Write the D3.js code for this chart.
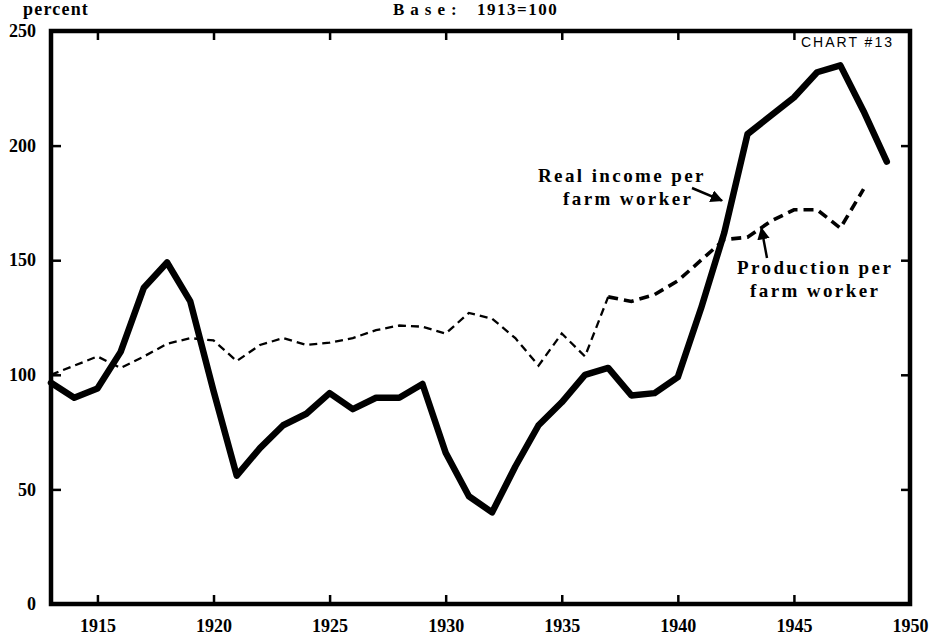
<!DOCTYPE html>
<html>
<head>
<meta charset="utf-8">
<script src="https://cdn.jsdelivr.net/npm/d3@7"></script>
<style>
  body { margin: 0; background: #fff; }
  svg { display: block; }
</style>
</head>
<body>
<div id="chart-area"></div>
<script>
// values (1913 = 100)
const years = [1913, 1914, 1915, 1916, 1917, 1918, 1919, 1920, 1921, 1922,
  1923, 1924, 1925, 1926, 1927, 1928, 1929, 1930, 1931, 1932,
  1933, 1934, 1935, 1936, 1937, 1938, 1939, 1940, 1941, 1942,
  1943, 1944, 1945, 1946, 1947, 1948, 1949];

const realIncome = [96.5, 90, 94, 110, 138, 149, 132, 93, 56, 68,
  78, 83, 92, 85, 90, 90, 96, 66, 47, 40,
  60, 78, 88, 100, 103, 91, 92, 99, 129, 162,
  205, 213, 221, 232, 235, 215, 193];

// production series stops at 1948
const production = [100, 104, 108, 103, 108, 113.5, 116, 115, 106, 113,
  116, 113, 114, 116, 119.5, 121.5, 121, 118, 127, 124.5,
  116, 104, 118, 108, 134, 132, 135, 141, 150, 159,
  160, 167, 172, 172, 164, 181];

const xTicks = [1915, 1920, 1925, 1930, 1935, 1940, 1945, 1950];
const yTicks = [0, 50, 100, 150, 200, 250];

const width = 932;
const height = 639;
const serif = "'Liberation Serif', 'DejaVu Serif', serif";

const svg = d3.select("#chart-area")
  .append("svg")
  .attr("width", width)
  .attr("height", height);

const x = d3.scaleLinear()
  .domain([1913, 1950])
  .range([51, 910]);

const y = d3.scaleLinear()
  .domain([0, 250])
  .range([604, 31]);

// axes: ticks point inward, labels outside
const xAxis = d3.axisBottom(x)
  .tickValues(xTicks)
  .tickSizeInner(-9)
  .tickSizeOuter(0)
  .tickPadding(15)
  .tickFormat(d3.format("d"));

const xAxisTop = d3.axisTop(x)
  .tickValues(xTicks.slice(0, -1))
  .tickSizeInner(-9)
  .tickSizeOuter(0)
  .tickFormat("");

const yAxis = d3.axisLeft(y)
  .tickValues(yTicks)
  .tickSizeInner(-10)
  .tickSizeOuter(0)
  .tickPadding(15);

const yAxisRight = d3.axisRight(y)
  .tickValues(yTicks.slice(1, -1))
  .tickSizeInner(-9)
  .tickSizeOuter(0)
  .tickFormat("");

const axisGroups = [
  svg.append("g").attr("transform", `translate(0, ${y(0)})`).call(xAxis),
  svg.append("g").attr("transform", `translate(0, ${y(250)})`).call(xAxisTop),
  svg.append("g").attr("transform", `translate(${x(1913)}, 0)`).call(yAxis),
  svg.append("g").attr("transform", `translate(${x(1950)}, 0)`).call(yAxisRight)
];

axisGroups.forEach(ag => {
  ag.select(".domain").remove();
  ag.selectAll("line").attr("stroke", "#000").attr("stroke-width", 2.5);
  ag.selectAll("text")
    .attr("fill", "#000")
    .attr("font-family", serif)
    .attr("font-weight", "bold")
    .attr("font-size", "18px");
});

// frame
svg.append("rect")
  .attr("x", x(1913))
  .attr("y", y(250))
  .attr("width", x(1950) - x(1913))
  .attr("height", y(0) - y(250))
  .attr("fill", "none")
  .attr("stroke", "#000")
  .attr("stroke-width", 4.5);

// lines
const incomeData = years.map((yr, i) => ({ year: yr, value: realIncome[i] }));
const prodData = production.map((v, i) => ({ year: years[i], value: v }));

const line = d3.line()
  .x(d => x(d.year))
  .y(d => y(d.value));

svg.append("path")
  .datum(incomeData)
  .attr("d", line)
  .attr("fill", "none")
  .attr("stroke", "#000")
  .attr("stroke-width", 6.5)
  .attr("stroke-linejoin", "round")
  .attr("stroke-linecap", "round");

// dashed line gets heavier from 1937 on
const split = years.indexOf(1937);

svg.append("path")
  .datum(prodData.slice(0, split + 1))
  .attr("d", line)
  .attr("fill", "none")
  .attr("stroke", "#000")
  .attr("stroke-width", 2.3)
  .attr("stroke-dasharray", "8,5");

svg.append("path")
  .datum(prodData.slice(split))
  .attr("d", line)
  .attr("fill", "none")
  .attr("stroke", "#000")
  .attr("stroke-width", 3.6)
  .attr("stroke-dasharray", "10,6");

// titles
svg.append("text")
  .attr("x", 23)
  .attr("y", 15)
  .attr("font-family", serif)
  .attr("font-weight", "bold")
  .attr("font-size", "18px")
  .attr("letter-spacing", "1.2px")
  .text("percent");

svg.append("text")
  .attr("x", 393)
  .attr("y", 15)
  .attr("font-family", serif)
  .attr("font-weight", "bold")
  .attr("font-size", "17px")
  .attr("letter-spacing", "6px")
  .text("Base:");

svg.append("text")
  .attr("x", 477)
  .attr("y", 15)
  .attr("font-family", serif)
  .attr("font-weight", "bold")
  .attr("font-size", "17px")
  .attr("letter-spacing", "1.5px")
  .text("1913=100");

svg.append("text")
  .attr("x", 801)
  .attr("y", 47)
  .attr("font-family", "'Liberation Sans', 'DejaVu Sans', sans-serif")
  .attr("font-size", "14px")
  .attr("letter-spacing", "2px")
  .text("CHART #13");

// annotations
svg.append("defs").append("marker")
  .attr("id", "arrow")
  .attr("viewBox", "0 0 10 10")
  .attr("refX", 9)
  .attr("refY", 5)
  .attr("markerWidth", 5)
  .attr("markerHeight", 5)
  .attr("orient", "auto")
  .append("path")
  .attr("d", "M0,0 L10,5 L0,10 Z")
  .attr("fill", "#000");

const labels = [
  { text: "Real income per", x: 538, y: 182 },
  { text: "farm worker", x: 563, y: 205 },
  { text: "Production per", x: 737, y: 274 },
  { text: "farm worker", x: 750, y: 297 }
];

labels.forEach(l => {
  svg.append("text")
    .attr("x", l.x)
    .attr("y", l.y)
    .attr("font-family", serif)
    .attr("font-weight", "bold")
    .attr("font-size", "19px")
    .attr("letter-spacing", "2.4px")
    .text(l.text);
});

svg.append("line")
  .attr("x1", 692).attr("y1", 188)
  .attr("x2", x(1941.9)).attr("y2", y(176))
  .attr("stroke", "#000")
  .attr("stroke-width", 2.5)
  .attr("marker-end", "url(#arrow)");

svg.append("line")
  .attr("x1", 767).attr("y1", 258)
  .attr("x2", x(1943.6)).attr("y2", y(164))
  .attr("stroke", "#000")
  .attr("stroke-width", 2.5)
  .attr("marker-end", "url(#arrow)");
</script>
</body>
</html>
